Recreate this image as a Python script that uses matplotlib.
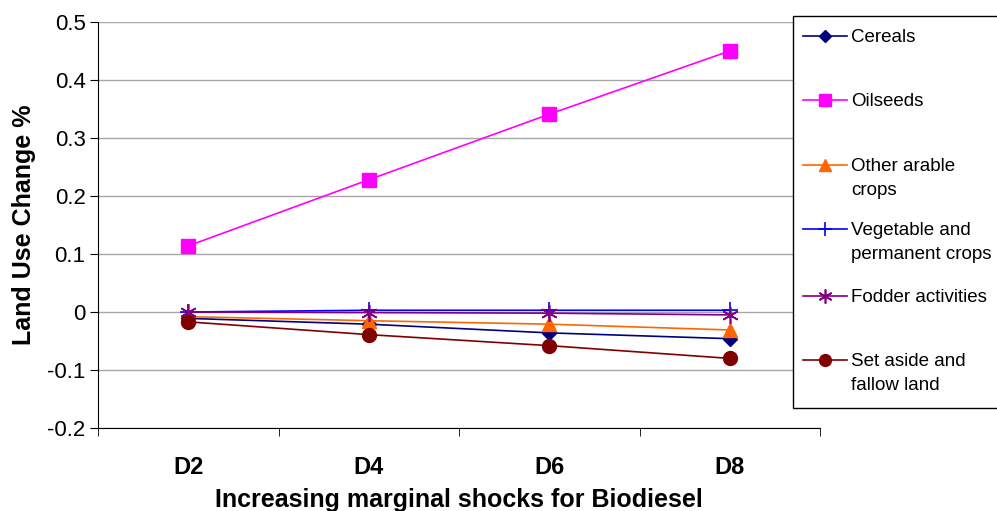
import matplotlib
matplotlib.use('Agg')
import matplotlib.pyplot as plt
from matplotlib.lines import Line2D
from matplotlib.patches import Rectangle

plt.rcParams['font.family'] = ['Liberation Sans', 'DejaVu Sans']

# Datos del gráfico
escenarios = ['D2', 'D4', 'D6', 'D8']
cereales = [-0.011, -0.021, -0.036, -0.046]
oleaginosas = [0.114, 0.228, 0.341, 0.450]
otros_arables = [-0.008, -0.015, -0.021, -0.031]
hortalizas = [0.000, 0.003, 0.003, 0.003]
forrajes = [0.000, -0.001, -0.002, -0.005]
barbecho = [-0.017, -0.039, -0.058, -0.080]

# nombre, valores, color, marcador, tamaño, grosor del borde
series = [
    ('Cereals', cereales, '#000080', 'D', 7, None),
    ('Oilseeds', oleaginosas, '#FF00FF', 's', 10.5, None),
    ('Other arable\ncrops', otros_arables, '#FF6600', '^', 10.5, None),
    ('Vegetable and\npermanent crops', hortalizas, '#0000FF', '+', 12, 1.2),
    ('Fodder activities', forrajes, '#800080', (6, 2, 0), 12, 1.2),
    ('Set aside and\nfallow land', barbecho, '#800000', 'o', 10, None),
]

fig = plt.figure(figsize=(9.97, 5.11), dpi=100)
ax = fig.add_axes([0.0983, 0.1624, 0.7242, 0.7946])

x = list(range(len(escenarios)))
for nombre, valores, color, marcador, tam, mew in series:
    kw = {}
    if mew:
        kw['markeredgewidth'] = mew
    ax.plot(x, valores, color=color, marker=marcador, markersize=tam,
            linewidth=1.2, label=nombre, clip_on=False, **kw)

ax.set_xlim(-0.5, 3.5)
ax.set_ylim(-0.2, 0.5)
ax.set_yticks([-0.2, -0.1, 0, 0.1, 0.2, 0.3, 0.4, 0.5])
ax.set_yticklabels(['-0.2', '-0.1', '0', '0.1', '0.2', '0.3', '0.4', '0.5'], fontsize=16)
ax.set_xticks(x)
ax.set_xticklabels(escenarios, fontsize=17, fontweight='bold')
ax.tick_params(axis='x', length=0, pad=20.5)
ax.set_xticks([-0.5, 0.5, 1.5, 2.5, 3.5], minor=True)
ax.tick_params(axis='x', which='minor', length=6, direction='out', color='black')
ax.tick_params(axis='y', length=6, direction='out', color='black', pad=3)

ax.grid(axis='y', color='#A6A6A6', linewidth=1)
ax.set_axisbelow(True)
for lado in ['top', 'right']:
    ax.spines[lado].set_visible(False)
ax.spines['left'].set_color('black')
ax.spines['bottom'].set_color('black')

ax.set_xlabel('Increasing marginal shocks for Biodiesel', fontsize=18,
              fontweight='bold', labelpad=6)
ax.set_ylabel('Land Use Change %', fontsize=18, fontweight='bold', labelpad=8)

# Leyenda dibujada a mano (marcador alineado con la primera línea)
W, H = 997.0, 511.0
fig.add_artist(Rectangle((793 / W, 1 - 408 / H), 220 / W, (408 - 16) / H,
                         transform=fig.transFigure, facecolor='white',
                         edgecolor='black', linewidth=1))
ys = [36, 100, 165, 229, 296, 360]
for (nombre, valores, color, marcador, tam, mew), yp in zip(series, ys):
    yf = 1 - yp / H
    fig.add_artist(Line2D([803 / W, 847 / W], [yf, yf], color=color,
                          linewidth=1.2, transform=fig.transFigure))
    kw = {}
    if mew:
        kw['markeredgewidth'] = mew
    fig.add_artist(Line2D([825 / W], [yf], color=color, marker=marcador,
                          markersize=tam * 0.85, transform=fig.transFigure, **kw))
    fig.text(851 / W, yf + 7 / H, nombre, fontsize=13.5, va='top', ha='left',
             linespacing=1.55)

fig.savefig('out.png', dpi=100)
